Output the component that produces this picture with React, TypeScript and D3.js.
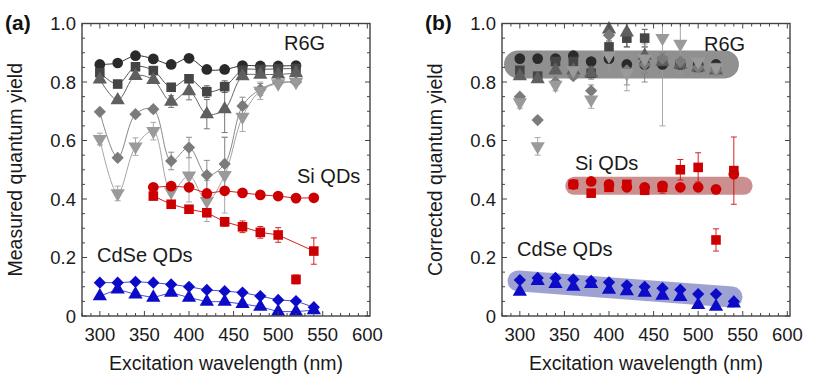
import React from 'react';
import * as d3 from 'd3';

const W = 818;
const H = 387;
const FONT = "'Liberation Sans', Arial, sans-serif";

// wavelengths (nm)
const r6gWl = [300, 320, 340, 360, 380, 400, 420, 440, 460, 480, 500, 520];
const siWl = [360, 380, 400, 420, 440, 460, 480, 500, 520, 540];
const cdseWl = [300, 320, 340, 360, 380, 400, 420, 440, 460, 480, 500, 520, 540];

// (a) measured quantum yield
const r6gCircA = [0.86, 0.865, 0.89, 0.879, 0.86, 0.881, 0.843, 0.843, 0.856, 0.855, 0.855, 0.856];
const r6gSqA = [0.832, 0.793, 0.852, 0.839, 0.782, 0.811, 0.767, 0.784, 0.84, 0.843, 0.845, 0.846];
const r6gSqErrA = [0, 0, 0, 0, 0, 0.01, 0.02, 0.02, 0, 0, 0, 0];
const r6gTriA = [0.809, 0.738, 0.821, 0.807, 0.733, 0.769, 0.69, 0.707, 0.82, 0.825, 0.826, 0.83];
const r6gTriErrA = [0, 0.01, 0, 0, 0.02, 0.03, 0.05, 0.08, 0.01, 0, 0, 0];
const r6gDiaA = [0.698, 0.541, 0.69, 0.707, 0.53, 0.576, 0.482, 0.52, 0.718, 0.775, 0.798, 0.8];
const r6gDiaErrA = [0, 0.01, 0, 0.01, 0.03, 0.035, 0.05, 0.09, 0.03, 0.02, 0.01, 0];
const r6gDownA = [0.605, 0.419, 0.579, 0.632, 0.425, 0.48, 0.393, 0.482, 0.681, 0.77, 0.795, 0.8];
const r6gDownErrA = [0.02, 0.025, 0.03, 0.03, 0.03, 0.09, 0.07, 0.13, 0.05, 0.03, 0.01, 0];

const siCircA = [0.44, 0.444, 0.44, 0.419, 0.428, 0.421, 0.414, 0.41, 0.403, 0.404];
const siSqA = [0.41, 0.382, 0.365, 0.353, 0.322, 0.305, 0.286, 0.277, 0.125, 0.222];
const siSqErrA = [0, 0.01, 0, 0, 0.015, 0.02, 0.02, 0.025, 0.015, 0.045];
const siOutlierWl = 520; // not joined by the line in (a)

const cdseDiaA = [0.114, 0.114, 0.117, 0.114, 0.108, 0.1, 0.089, 0.085, 0.08, 0.068, 0.055, 0.051, 0.03];
const cdseTriA = [0.068, 0.091, 0.074, 0.063, 0.08, 0.063, 0.049, 0.049, 0.041, 0.032, 0.015, 0.015, 0.02];

// (b) corrected quantum yield
const r6gCircB = [0.88, 0.88, 0.88, 0.89, 0.87, 0.88, 0.86, 0.86, 0.86, 0.86, 0.86, 0.86];
const r6gSqB = [0.84, 0.82, 0.87, 0.87, 0.83, 0.92, 0.95, 0.95, 0.87, 0.86, 0.85, 0.85];
const r6gSqErrB = [0, 0, 0, 0, 0, 0.02, 0.03, 0.03, 0.01, 0, 0, 0];
const r6gTriB = [0.82, 0.81, 0.84, 0.84, 0.83, 0.98, 0.97, 0.89, 0.87, 0.86, 0.85, 0.84];
const r6gTriErrB = [0, 0.01, 0, 0, 0.02, 0.03, 0.05, 0.06, 0.01, 0, 0, 0];
const r6gDiaB = [0.75, 0.67, 0.8, 0.82, 0.77, 0.96, 0.84, 0.86, 0.88, 0.87, 0.85, 0.84];
const r6gDiaErrB = [0, 0.01, 0, 0.01, 0.02, 0.03, 0.05, 0.06, 0.02, 0.01, 0, 0];
const r6gDownB = [0.73, 0.58, 0.79, 0.84, 0.74, 0.89, 0.83, 0.88, 0.95, 0.93, 0.87, 0.85];
const r6gDownErrB = [0.02, 0.03, 0.02, 0.03, 0.03, 0.05, 0.06, 0.05, 0.3, 0.1, 0.01, 0];

const siCircB = [0.45, 0.46, 0.45, 0.44, 0.44, 0.445, 0.44, 0.44, 0.433, 0.485];
const siSqB = [0.45, 0.42, 0.44, 0.45, 0.43, 0.44, 0.5, 0.508, 0.26, 0.497];
const siSqErrB = [0, 0.01, 0.01, 0.01, 0.015, 0.02, 0.035, 0.05, 0.038, 0.115];

const cdseDiaB = [0.123, 0.13, 0.13, 0.125, 0.12, 0.115, 0.105, 0.1, 0.095, 0.09, 0.075, 0.075, 0.05];
const cdseTriB = [0.083, 0.12, 0.11, 0.1, 0.11, 0.09, 0.085, 0.08, 0.07, 0.065, 0.038, 0.032, 0.043];

// guide bands in (b): [wavelength, qy] end points
const bandR6G = [[298, 0.86], [530, 0.86]];
const bandSi = [[361, 0.445], [551, 0.445]];
const bandCdSe = [[298, 0.12], [538, 0.065]];

const xTicks = [300, 350, 400, 450, 500, 550, 600];
const yTicks = [0, 0.2, 0.4, 0.6, 0.8, 1.0];

const GREYS = ['#2a2a2a', '#454545', '#5f5f5f', '#7b7b7b', '#9a9a9a'];
const LINE_GREYS = ['#333', '#555', '#666', '#888', '#a5a5a5'];
const RED = '#cc0000';
const BLUE = '#0b0bc8';

type Shape = 'circle' | 'square' | 'tri' | 'dia' | 'down';

interface Series {
  wl: number[];
  y: number[];
  err?: number[];
  shape: Shape;
  color: string;
  line?: string;
  curve?: boolean;
  skip?: number;
}

function symbolPath(shape: Shape) {
  if (shape === 'circle') return d3.symbol(d3.symbolCircle, 90)()!;
  if (shape === 'square' || shape === 'dia') return d3.symbol(d3.symbolSquare, shape === 'dia' ? 75 : 92)()!;
  return d3.symbol(d3.symbolTriangle, 88)()!;
}
function symbolRot(shape: Shape) {
  if (shape === 'dia') return 45;
  if (shape === 'down') return 180;
  return 0;
}

const seriesA: Series[] = [
  { wl: r6gWl, y: r6gCircA, shape: 'circle', color: GREYS[0], line: LINE_GREYS[0], curve: true },
  { wl: r6gWl, y: r6gSqA, err: r6gSqErrA, shape: 'square', color: GREYS[1], line: LINE_GREYS[1], curve: true },
  { wl: r6gWl, y: r6gTriA, err: r6gTriErrA, shape: 'tri', color: GREYS[2], line: LINE_GREYS[2], curve: true },
  { wl: r6gWl, y: r6gDiaA, err: r6gDiaErrA, shape: 'dia', color: GREYS[3], line: LINE_GREYS[3], curve: true },
  { wl: r6gWl, y: r6gDownA, err: r6gDownErrA, shape: 'down', color: GREYS[4], line: LINE_GREYS[4], curve: true },
  { wl: siWl, y: siCircA, shape: 'circle', color: RED, line: '#d42020' },
  { wl: siWl, y: siSqA, err: siSqErrA, shape: 'square', color: RED, line: '#d42020', skip: siOutlierWl },
  { wl: cdseWl, y: cdseDiaA, shape: 'dia', color: BLUE, line: '#4a4ad8' },
  { wl: cdseWl, y: cdseTriA, shape: 'tri', color: BLUE, line: '#4a4ad8' },
];

const seriesB: Series[] = [
  { wl: r6gWl, y: r6gCircB, shape: 'circle', color: GREYS[0] },
  { wl: r6gWl, y: r6gSqB, err: r6gSqErrB, shape: 'square', color: GREYS[1] },
  { wl: r6gWl, y: r6gTriB, err: r6gTriErrB, shape: 'tri', color: GREYS[2] },
  { wl: r6gWl, y: r6gDiaB, err: r6gDiaErrB, shape: 'dia', color: GREYS[3] },
  { wl: r6gWl, y: r6gDownB, err: r6gDownErrB, shape: 'down', color: GREYS[4] },
  { wl: siWl, y: siCircB, shape: 'circle', color: RED },
  { wl: siWl, y: siSqB, err: siSqErrB, shape: 'square', color: RED },
  { wl: cdseWl, y: cdseDiaB, shape: 'dia', color: BLUE },
  { wl: cdseWl, y: cdseTriB, shape: 'tri', color: BLUE },
];

interface Label { text: string; x: number; y: number }

function Panel(props: {
  left: number; tag: string; yTitle: string; series: Series[];
  bands?: { pts: number[][]; color: string; opacity: number; width: number }[];
  labels: Label[];
}) {
  const { left, tag, yTitle, series, bands, labels } = props;
  const right = left + 288;
  const top = 23.5;
  const bottom = 316;
  const x = d3.scaleLinear().domain([280, 603]).range([left, right]);
  const y = d3.scaleLinear().domain([0, 1]).range([bottom, top]);
  const minorX = d3.range(280, 601, 10);
  const minorY = d3.range(0, 1.001, 0.05);
  const frame = '#444';

  return (
    <g fontFamily={FONT}>
      <text x={left - 77} y={30} fontSize={21} fontWeight="bold" fill="#111">{tag}</text>
      {bands && bands.map((b, i) => (
        <line key={'b' + i} x1={x(b.pts[0][0])} y1={y(b.pts[0][1])} x2={x(b.pts[1][0])} y2={y(b.pts[1][1])}
          stroke={b.color} strokeOpacity={b.opacity} strokeWidth={b.width} strokeLinecap="round" />
      ))}
      {series.map((s, i) => {
        if (!s.line) return null;
        const pts = s.wl.map((w, j) => [w, s.y[j]]).filter(p => p[0] !== s.skip);
        const gen = d3.line<number[]>().x(p => x(p[0])).y(p => y(p[1]))
          .curve(s.curve ? d3.curveCatmullRom.alpha(0.5) : d3.curveLinear);
        return <path key={'l' + i} d={gen(pts) || ''} fill="none" stroke={s.line} strokeWidth={1} />;
      })}
      {series.map((s, i) => s.err ? (
        <g key={'e' + i} stroke={s.color} strokeWidth={1} opacity={0.85}>
          {s.wl.map((w, j) => {
            const e = s.err![j];
            if (!e) return null;
            const cx = x(w);
            return (
              <g key={j}>
                <line x1={cx} x2={cx} y1={y(Math.min(s.y[j] + e, 1))} y2={y(s.y[j] - e)} />
                {s.y[j] + e <= 1 && <line x1={cx - 3} x2={cx + 3} y1={y(s.y[j] + e)} y2={y(s.y[j] + e)} />}
                <line x1={cx - 3} x2={cx + 3} y1={y(s.y[j] - e)} y2={y(s.y[j] - e)} />
              </g>
            );
          })}
        </g>
      ) : null)}
      {series.map((s, i) => (
        <g key={'m' + i} fill={s.color}>
          {s.wl.map((w, j) => (
            <path key={j} d={symbolPath(s.shape)}
              transform={`translate(${x(w)},${y(s.y[j])}) rotate(${symbolRot(s.shape)})`} />
          ))}
        </g>
      ))}
      <rect x={left} y={top} width={right - left} height={bottom - top} fill="none" stroke={frame} strokeWidth={1.4} />
      <g stroke={frame} strokeWidth={1}>
        {minorX.map(v => {
          const len = v % 50 === 0 ? 5 : 3;
          return (
            <g key={'tx' + v}>
              <line x1={x(v)} x2={x(v)} y1={bottom} y2={bottom - len} />
              <line x1={x(v)} x2={x(v)} y1={top} y2={top + len} />
            </g>
          );
        })}
        {minorY.map((v, k) => {
          const len = k % 4 === 0 ? 5 : 3;
          return (
            <g key={'ty' + k}>
              <line x1={left} x2={left + len} y1={y(v)} y2={y(v)} />
              <line x1={right} x2={right - len} y1={y(v)} y2={y(v)} />
            </g>
          );
        })}
      </g>
      {xTicks.map(v => (
        <text key={'xl' + v} x={x(v)} y={341} fontSize={18.5} textAnchor="middle" fill="#1a1a1a">{v}</text>
      ))}
      {yTicks.map(v => (
        <text key={'yl' + v} x={left - 6} y={y(v)} dy="0.36em" fontSize={18.5} textAnchor="end" fill="#1a1a1a">
          {v === 0 ? '0' : v.toFixed(1)}
        </text>
      ))}
      <text x={(left + right) / 2} y={370} fontSize={19.5} textAnchor="middle" fill="#1a1a1a">Excitation wavelength (nm)</text>
      <text transform={`translate(${left - 60},${(top + bottom) / 2}) rotate(-90)`} fontSize={19.5} textAnchor="middle" fill="#1a1a1a">{yTitle}</text>
      {labels.map(l => (
        <text key={l.text} x={l.x} y={l.y} fontSize={20} fill="#1a1a1a">{l.text}</text>
      ))}
    </g>
  );
}

export default function App() {
  return (
    <svg width={W} height={H} style={{ position: 'absolute', left: 0, top: 0, background: '#fff' }}>
      <Panel left={82} tag="(a)" yTitle="Measured quantum yield" series={seriesA}
        labels={[
          { text: 'R6G', x: 284, y: 50 },
          { text: 'Si QDs', x: 297, y: 183 },
          { text: 'CdSe QDs', x: 97, y: 262 },
        ]} />
      <Panel left={502} tag="(b)" yTitle="Corrected quantum yield" series={seriesB}
        bands={[
          { pts: bandR6G, color: '#555', opacity: 0.65, width: 28 },
          { pts: bandSi, color: '#9a2020', opacity: 0.5, width: 18 },
          { pts: bandCdSe, color: '#28309e', opacity: 0.45, width: 21 },
        ]}
        labels={[
          { text: 'R6G', x: 704, y: 51 },
          { text: 'Si QDs', x: 575, y: 170 },
          { text: 'CdSe QDs', x: 517, y: 256 },
        ]} />
    </svg>
  );
}
